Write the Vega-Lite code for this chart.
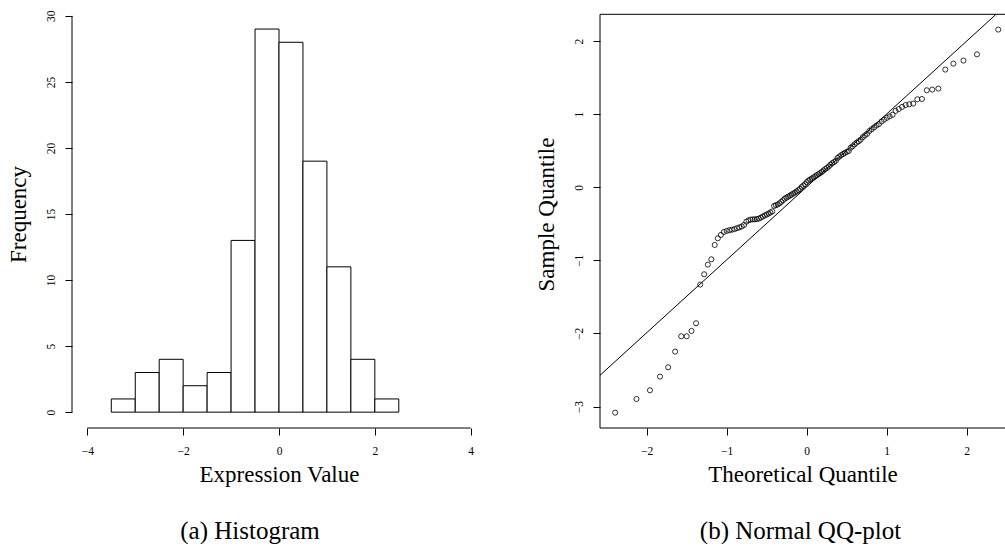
{
  "$schema": "https://vega.github.io/schema/vega-lite/v6.json",
  "padding": {"left": 7, "top": 0, "right": 0, "bottom": 0},
  "background": "white",
  "spacing": 49,
  "config": {
    "view": {"stroke": null},
    "font": "Liberation Serif",
    "axis": {
      "grid": false, "domain": false, "format": "d",
      "labelFont": "Liberation Serif", "labelFontSize": 11.5, "labelColor": "black",
      "tickColor": "black", "tickSize": 7, "tickWidth": 1,
      "titleFont": "Liberation Serif", "titleFontSize": 23, "titleFontWeight": "normal", "titleColor": "black"
    },
    "axisX": {"labelPadding": 10, "titlePadding": 7},
    "axisY": {"labelAngle": 270, "labelAlign": "center", "labelBaseline": "bottom", "labelPadding": 8.5, "titlePadding": 15},
    "title": {"font": "Liberation Serif", "fontSize": 25, "fontWeight": "normal", "color": "black"}
  },
  "datasets": {
    "bins": [
      {"bin_start": -3.5, "bin_end": -3.0, "count": 1},
      {"bin_start": -3.0, "bin_end": -2.5, "count": 3},
      {"bin_start": -2.5, "bin_end": -2.0, "count": 4},
      {"bin_start": -2.0, "bin_end": -1.5, "count": 2},
      {"bin_start": -1.5, "bin_end": -1.0, "count": 3},
      {"bin_start": -1.0, "bin_end": -0.5, "count": 13},
      {"bin_start": -0.5, "bin_end": 0.0, "count": 29},
      {"bin_start": 0.0, "bin_end": 0.5, "count": 28},
      {"bin_start": 0.5, "bin_end": 1.0, "count": 19},
      {"bin_start": 1.0, "bin_end": 1.5, "count": 11},
      {"bin_start": 1.5, "bin_end": 2.0, "count": 4},
      {"bin_start": 2.0, "bin_end": 2.5, "count": 1}
    ],
    "qq": [
      {"tq": -2.394, "sq": -3.083}, {"tq": -2.128, "sq": -2.896}, {"tq": -1.960, "sq": -2.777},
      {"tq": -1.834, "sq": -2.590}, {"tq": -1.732, "sq": -2.462}, {"tq": -1.645, "sq": -2.248},
      {"tq": -1.569, "sq": -2.038}, {"tq": -1.501, "sq": -2.038}, {"tq": -1.440, "sq": -1.965},
      {"tq": -1.383, "sq": -1.860}, {"tq": -1.331, "sq": -1.331}, {"tq": -1.282, "sq": -1.190},
      {"tq": -1.236, "sq": -1.058}, {"tq": -1.192, "sq": -0.985}, {"tq": -1.150, "sq": -0.789},
      {"tq": -1.111, "sq": -0.698}, {"tq": -1.073, "sq": -0.652}, {"tq": -1.036, "sq": -0.611},
      {"tq": -1.001, "sq": -0.597}, {"tq": -0.967, "sq": -0.588}, {"tq": -0.935, "sq": -0.580},
      {"tq": -0.903, "sq": -0.572}, {"tq": -0.872, "sq": -0.560}, {"tq": -0.842, "sq": -0.548},
      {"tq": -0.812, "sq": -0.536}, {"tq": -0.783, "sq": -0.515}, {"tq": -0.755, "sq": -0.470},
      {"tq": -0.728, "sq": -0.452}, {"tq": -0.701, "sq": -0.442}, {"tq": -0.674, "sq": -0.440},
      {"tq": -0.649, "sq": -0.438}, {"tq": -0.623, "sq": -0.435}, {"tq": -0.598, "sq": -0.428},
      {"tq": -0.573, "sq": -0.415}, {"tq": -0.549, "sq": -0.400}, {"tq": -0.524, "sq": -0.385},
      {"tq": -0.501, "sq": -0.372}, {"tq": -0.477, "sq": -0.360}, {"tq": -0.454, "sq": -0.345},
      {"tq": -0.431, "sq": -0.330}, {"tq": -0.408, "sq": -0.255}, {"tq": -0.385, "sq": -0.245},
      {"tq": -0.363, "sq": -0.235}, {"tq": -0.341, "sq": -0.220}, {"tq": -0.319, "sq": -0.200},
      {"tq": -0.297, "sq": -0.178}, {"tq": -0.275, "sq": -0.155}, {"tq": -0.253, "sq": -0.142},
      {"tq": -0.232, "sq": -0.128}, {"tq": -0.210, "sq": -0.115}, {"tq": -0.189, "sq": -0.100},
      {"tq": -0.168, "sq": -0.086}, {"tq": -0.147, "sq": -0.072}, {"tq": -0.126, "sq": -0.056},
      {"tq": -0.105, "sq": -0.040}, {"tq": -0.084, "sq": -0.022}, {"tq": -0.063, "sq": 0.005},
      {"tq": -0.042, "sq": 0.022}, {"tq": -0.021, "sq": 0.042}, {"tq": 0.000, "sq": 0.070},
      {"tq": 0.021, "sq": 0.092}, {"tq": 0.042, "sq": 0.105}, {"tq": 0.063, "sq": 0.120},
      {"tq": 0.084, "sq": 0.135}, {"tq": 0.105, "sq": 0.150}, {"tq": 0.126, "sq": 0.165},
      {"tq": 0.147, "sq": 0.180}, {"tq": 0.168, "sq": 0.195}, {"tq": 0.189, "sq": 0.210},
      {"tq": 0.210, "sq": 0.230}, {"tq": 0.232, "sq": 0.250}, {"tq": 0.253, "sq": 0.265},
      {"tq": 0.275, "sq": 0.285}, {"tq": 0.297, "sq": 0.310}, {"tq": 0.319, "sq": 0.330},
      {"tq": 0.341, "sq": 0.345}, {"tq": 0.363, "sq": 0.362}, {"tq": 0.385, "sq": 0.400},
      {"tq": 0.408, "sq": 0.420}, {"tq": 0.431, "sq": 0.440}, {"tq": 0.454, "sq": 0.455},
      {"tq": 0.477, "sq": 0.470}, {"tq": 0.501, "sq": 0.485}, {"tq": 0.524, "sq": 0.496},
      {"tq": 0.549, "sq": 0.540}, {"tq": 0.573, "sq": 0.560}, {"tq": 0.598, "sq": 0.588},
      {"tq": 0.623, "sq": 0.610}, {"tq": 0.649, "sq": 0.630}, {"tq": 0.674, "sq": 0.650},
      {"tq": 0.701, "sq": 0.685}, {"tq": 0.728, "sq": 0.710}, {"tq": 0.755, "sq": 0.732},
      {"tq": 0.783, "sq": 0.770}, {"tq": 0.812, "sq": 0.795}, {"tq": 0.842, "sq": 0.820},
      {"tq": 0.872, "sq": 0.845}, {"tq": 0.903, "sq": 0.865}, {"tq": 0.935, "sq": 0.900},
      {"tq": 0.967, "sq": 0.925}, {"tq": 1.001, "sq": 0.950}, {"tq": 1.036, "sq": 0.970},
      {"tq": 1.073, "sq": 0.992}, {"tq": 1.111, "sq": 1.045}, {"tq": 1.150, "sq": 1.070},
      {"tq": 1.192, "sq": 1.100}, {"tq": 1.236, "sq": 1.125}, {"tq": 1.282, "sq": 1.135},
      {"tq": 1.331, "sq": 1.145}, {"tq": 1.383, "sq": 1.204}, {"tq": 1.440, "sq": 1.208},
      {"tq": 1.501, "sq": 1.327}, {"tq": 1.569, "sq": 1.336}, {"tq": 1.645, "sq": 1.350},
      {"tq": 1.732, "sq": 1.610}, {"tq": 1.834, "sq": 1.692}, {"tq": 1.960, "sq": 1.733},
      {"tq": 2.128, "sq": 1.819}, {"tq": 2.394, "sq": 2.157}
    ]
  },
  "hconcat": [
    {
      "width": 414,
      "height": 428,
      "title": {"text": "(a) Histogram", "orient": "bottom", "anchor": "middle", "frame": "group", "offset": 32, "dx": -29},
      "layer": [
        {
          "data": {"name": "bins"},
          "mark": {"type": "bar", "fill": "white", "stroke": "black", "strokeWidth": 1},
          "encoding": {
            "x": {"field": "bin_start", "type": "quantitative", "title": "Expression Value",
                  "scale": {"domain": [-4.32, 4.32], "nice": false, "zero": false},
                  "axis": {"values": [-4, -2, 0, 2, 4]}},
            "x2": {"field": "bin_end"},
            "y": {"field": "count", "type": "quantitative", "title": "Frequency",
                  "scale": {"domain": [-1.2, 31.2], "nice": false, "zero": false},
                  "axis": {"values": [0, 5, 10, 15, 20, 25, 30]}},
            "y2": {"datum": 0}
          }
        },
        {
          "data": {"values": [{"bin_start": -4, "bin_end": 4, "count": -1.2}]},
          "mark": {"type": "rule", "color": "black", "strokeWidth": 1},
          "encoding": {
            "x": {"field": "bin_start", "type": "quantitative", "title": "Expression Value",
                  "scale": {"domain": [-4.32, 4.32], "nice": false, "zero": false}},
            "x2": {"field": "bin_end"},
            "y": {"field": "count", "type": "quantitative", "title": "Frequency",
                  "scale": {"domain": [-1.2, 31.2], "nice": false, "zero": false}}
          }
        },
        {
          "data": {"values": [{"bin_start": -4.32, "count": 0, "count_end": 30}]},
          "mark": {"type": "rule", "color": "black", "strokeWidth": 1},
          "encoding": {
            "x": {"field": "bin_start", "type": "quantitative", "title": "Expression Value",
                  "scale": {"domain": [-4.32, 4.32], "nice": false, "zero": false}},
            "y": {"field": "count", "type": "quantitative", "title": "Frequency",
                  "scale": {"domain": [-1.2, 31.2], "nice": false, "zero": false}},
            "y2": {"field": "count_end"}
          }
        }
      ]
    },
    {
      "width": 405,
      "height": 428,
      "title": {"text": "(b) Normal QQ-plot", "orient": "bottom", "anchor": "middle", "frame": "group", "offset": 32, "dx": -2},
      "layer": [
        {
          "data": {"values": [{"tq": -2.584, "sq": -3.293, "tq_end": 2.4785}, {"tq": -2.584, "sq": 2.366, "tq_end": 2.4785}]},
          "mark": {"type": "rule", "color": "black", "strokeWidth": 1},
          "encoding": {
            "x": {"field": "tq", "type": "quantitative", "title": "Theoretical Quantile",
                  "scale": {"domain": [-2.584, 2.4785], "nice": false, "zero": false},
                  "axis": {"values": [-2, -1, 0, 1, 2]}},
            "x2": {"field": "tq_end"},
            "y": {"field": "sq", "type": "quantitative", "title": "Sample Quantile",
                  "scale": {"domain": [-3.293, 2.562], "nice": false, "zero": false},
                  "axis": {"values": [-3, -2, -1, 0, 1, 2]}}
          }
        },
        {
          "data": {"values": [{"tq": -2.584, "sq": -3.293, "sq_end": 2.366}]},
          "mark": {"type": "rule", "color": "black", "strokeWidth": 1},
          "encoding": {
            "x": {"field": "tq", "type": "quantitative", "title": "Theoretical Quantile",
                  "scale": {"domain": [-2.584, 2.4785], "nice": false, "zero": false}},
            "y": {"field": "sq", "type": "quantitative", "title": "Sample Quantile",
                  "scale": {"domain": [-3.293, 2.562], "nice": false, "zero": false}},
            "y2": {"field": "sq_end"}
          }
        },
        {
          "data": {"values": [{"tq": -2.584, "sq": -2.572}, {"tq": 2.3625, "sq": 2.362}]},
          "mark": {"type": "line", "color": "black", "strokeWidth": 1},
          "encoding": {
            "x": {"field": "tq", "type": "quantitative", "title": "Theoretical Quantile",
                  "scale": {"domain": [-2.584, 2.4785], "nice": false, "zero": false}},
            "y": {"field": "sq", "type": "quantitative", "title": "Sample Quantile",
                  "scale": {"domain": [-3.293, 2.562], "nice": false, "zero": false}}
          }
        },
        {
          "data": {"name": "qq"},
          "mark": {"type": "point", "shape": "circle", "filled": false, "color": "black", "strokeWidth": 0.8, "size": 26, "opacity": 1},
          "encoding": {
            "x": {"field": "tq", "type": "quantitative", "title": "Theoretical Quantile",
                  "scale": {"domain": [-2.584, 2.4785], "nice": false, "zero": false}},
            "y": {"field": "sq", "type": "quantitative", "title": "Sample Quantile",
                  "scale": {"domain": [-3.293, 2.562], "nice": false, "zero": false}}
          }
        }
      ]
    }
  ]
}
